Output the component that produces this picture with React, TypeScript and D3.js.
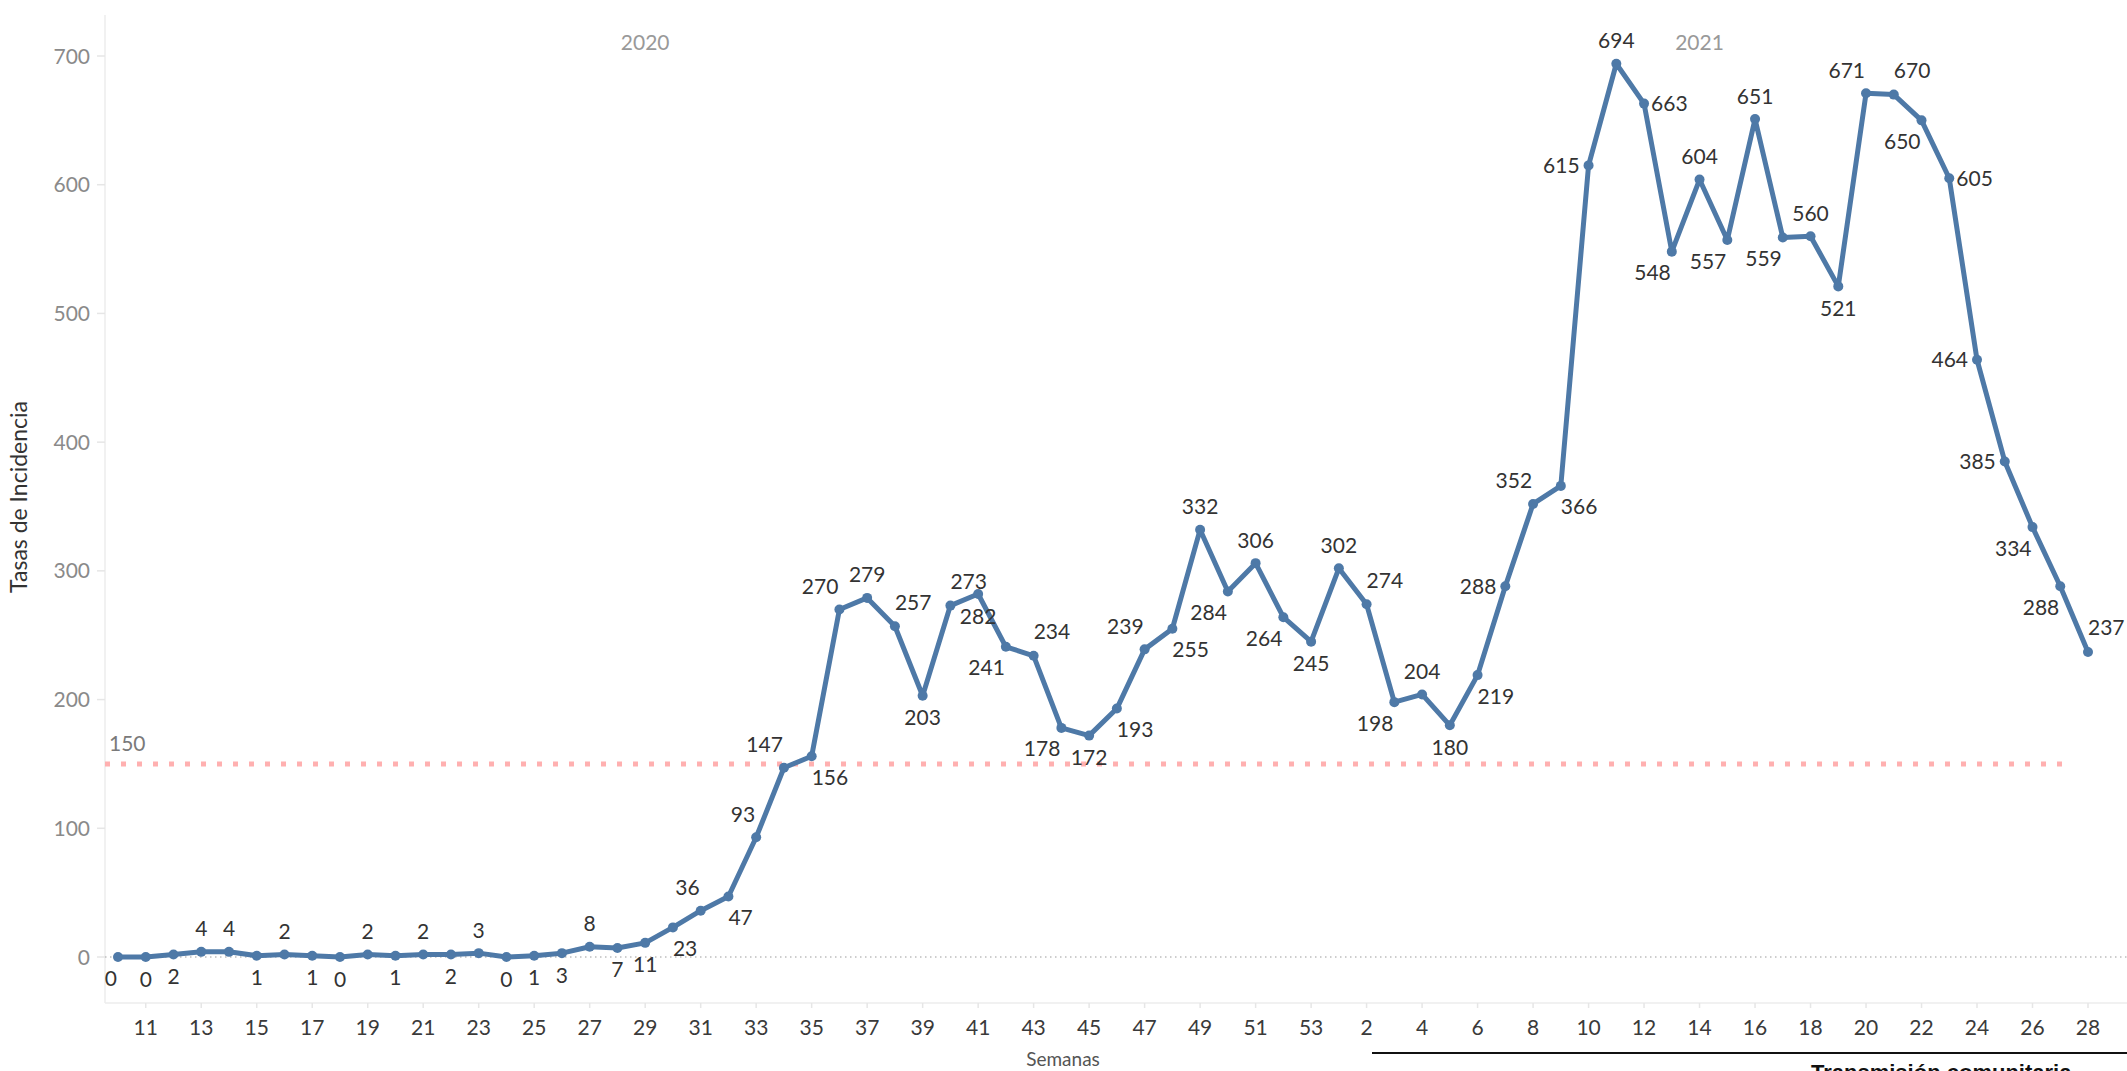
import React from "react";
import * as d3 from "d3";

// ---------- data ----------
const weeks2020 = [10, 11, 12, 13, 14, 15, 16, 17, 18, 19, 20, 21, 22, 23, 24, 25, 26, 27, 28, 29, 30, 31, 32, 33, 34, 35, 36, 37, 38, 39, 40, 41, 42, 43, 44, 45, 46, 47, 48, 49, 50, 51, 52, 53];
const values2020 = [0, 0, 2, 4, 4, 1, 2, 1, 0, 2, 1, 2, 2, 3, 0, 1, 3, 8, 7, 11, 23, 36, 47, 93, 147, 156, 270, 279, 257, 203, 273, 282, 241, 234, 178, 172, 193, 239, 255, 332, 284, 306, 264, 245];
const weeks2021 = [1, 2, 3, 4, 5, 6, 7, 8, 9, 10, 11, 12, 13, 14, 15, 16, 17, 18, 19, 20, 21, 22, 23, 24, 25, 26, 27, 28];
const values2021 = [302, 274, 198, 204, 180, 219, 288, 352, 366, 615, 694, 663, 548, 604, 557, 651, 559, 560, 521, 671, 670, 650, 605, 464, 385, 334, 288, 237];

// label placement relative to each point (t, b, l, r, tl, tr, bl, br)
const labelPos2020 = ["bl", "b", "b", "t", "t", "b", "t", "b", "b", "t", "b", "t", "b", "t", "b", "b", "b", "t", "b", "b", "br", "tl", "br", "tl", "tl", "br", "tl", "t", "tr", "b", "tr", "b", "bl", "tr", "bl", "b", "br", "tl", "br", "t", "bl", "t", "bl", "b"];
const labelPos2021 = ["t", "tr", "bl", "t", "b", "br", "l", "tl", "br", "l", "t", "r", "bl", "t", "bl", "t", "bl", "t", "b", "tl", "tr", "bl", "r", "l", "l", "bl", "bl", "tr"];

const yTicks = [0, 100, 200, 300, 400, 500, 600, 700];
const threshold = 150;
const yearLabels = [
  { year: "2020", yr: 2020, week: 29 },
  { year: "2021", yr: 2021, week: 14 },
];

const yTitle = "Tasas de Incidencia";
const xTitle = "Semanas";
const footerText = "Transmisión comunitaria";

// ---------- layout ----------
const W = 2127;
const H = 1071;
const plotLeft = 105;
const plotTop = 15;
const plotBottom = 1003;
const FONT = "Lato, 'Noto Sans', sans-serif";
const LINE_COLOR = "#4e79a7";

type Pt = { key: string; week: number; yr: number; value: number; pos: string; i: number };

const points: Pt[] = [
  ...weeks2020.map((w, k) => ({ key: `2020-${w}`, week: w, yr: 2020, value: values2020[k], pos: labelPos2020[k] })),
  ...weeks2021.map((w, k) => ({ key: `2021-${w}`, week: w, yr: 2021, value: values2021[k], pos: labelPos2021[k] })),
].map((d, i) => ({ ...d, i }));

export default function App() {
  const x = d3.scaleLinear().domain([0, points.length - 1]).range([118, 2088]);
  const y = d3.scaleLinear().domain([0, 700]).range([957, 56]);

  const line = d3
    .line<Pt>()
    .x((d) => x(d.i))
    .y((d) => y(d.value));

  const xTicks = points.filter((d) => d.i % 2 === 1);
  const capHalf = 7.5;

  const labelAttrs = (d: Pt) => {
    const px = x(d.i);
    const py = y(d.value);
    let dx = 0;
    let dy = 0;
    let anchor: "start" | "middle" | "end" = "middle";
    switch (d.pos) {
      case "t": dy = -23; break;
      case "b": dy = 22; break;
      case "l": dx = -9; dy = 0; anchor = "end"; break;
      case "r": dx = 7; dy = 0; anchor = "start"; break;
      case "tl": dx = -1; dy = -23; anchor = "end"; break;
      case "tr": dx = 0; dy = -24; anchor = "start"; break;
      case "bl": dx = -1; dy = 21; anchor = "end"; break;
      case "br": dx = 0; dy = 21; anchor = "start"; break;
    }
    return { x: px + dx, y: py + dy + capHalf, anchor };
  };

  const xOf = (yr: number, week: number) => {
    const p = points.find((d) => d.yr === yr && d.week === week);
    return p ? x(p.i) : 0;
  };

  return (
    <svg
      width={W}
      height={H}
      style={{ position: "absolute", left: 0, top: 0, background: "#fff" }}
      fontFamily={FONT}
    >
      <rect x={0} y={0} width={W} height={H} fill="#fff" />

      {/* plot borders */}
      <line x1={plotLeft} x2={plotLeft} y1={plotTop} y2={plotBottom} stroke="#ececec" strokeWidth={1.5} />
      <line x1={plotLeft} x2={W} y1={plotBottom} y2={plotBottom} stroke="#ececec" strokeWidth={1.5} />

      {/* y axis ticks and labels */}
      {yTicks.map((t) => (
        <g key={t}>
          <line x1={97} x2={plotLeft} y1={y(t)} y2={y(t)} stroke="#e6e6e6" strokeWidth={1.5} />
          <text x={90} y={y(t) + capHalf} textAnchor="end" fontSize={21} fill="#8a8a8a">
            {t}
          </text>
        </g>
      ))}

      {/* x axis ticks and labels */}
      {xTicks.map((d) => (
        <g key={d.key}>
          <line x1={x(d.i)} x2={x(d.i)} y1={plotBottom} y2={plotBottom + 5} stroke="#e6e6e6" strokeWidth={1.5} />
          <text x={x(d.i)} y={1035} textAnchor="middle" fontSize={21} fill="#3a3a3a">
            {d.week}
          </text>
        </g>
      ))}

      {/* axis titles */}
      <text
        transform={`translate(27, 497) rotate(-90)`}
        textAnchor="middle"
        fontSize={23}
        fill="#333"
      >
        {yTitle}
      </text>
      <text x={1063} y={1066} textAnchor="middle" fontSize={19} fill="#555">
        {xTitle}
      </text>

      {/* year headers */}
      {yearLabels.map((yl) => (
        <text key={yl.year} x={xOf(yl.yr, yl.week)} y={49.5} textAnchor="middle" fontSize={21} fill="#999">
          {yl.year}
        </text>
      ))}

      {/* zero line */}
      <line
        x1={plotLeft}
        x2={W}
        y1={y(0)}
        y2={y(0)}
        stroke="#bdbdbd"
        strokeWidth={1.5}
        strokeDasharray="1.5,3.5"
      />

      {/* threshold line */}
      <line
        x1={plotLeft}
        x2={x(points.length - 1) - 17}
        y1={y(threshold)}
        y2={y(threshold)}
        stroke="#ffb0b0"
        strokeWidth={5}
        strokeDasharray="5,11"
      />
      <text x={109} y={y(threshold) - 13} fontSize={21} fill="#7a7a7a">
        {threshold}
      </text>

      {/* series */}
      <path d={line(points) || ""} fill="none" stroke={LINE_COLOR} strokeWidth={5} strokeLinejoin="round" strokeLinecap="round" />
      {points.map((d) => (
        <circle key={d.key} cx={x(d.i)} cy={y(d.value)} r={5} fill={LINE_COLOR} />
      ))}

      {/* value labels */}
      {points.map((d) => {
        const a = labelAttrs(d);
        return (
          <text key={`l-${d.key}`} x={a.x} y={a.y} textAnchor={a.anchor} fontSize={21} fill="#333">
            {d.value}
          </text>
        );
      })}

      {/* footer */}
      <line x1={1372} x2={W} y1={1053} y2={1053} stroke="#111" strokeWidth={2} />
      <text x={1811} y={1080} fontSize={22} fontWeight="bold" fill="#111" fontFamily="'Liberation Sans', Arial, sans-serif">
        {footerText}
      </text>
    </svg>
  );
}
